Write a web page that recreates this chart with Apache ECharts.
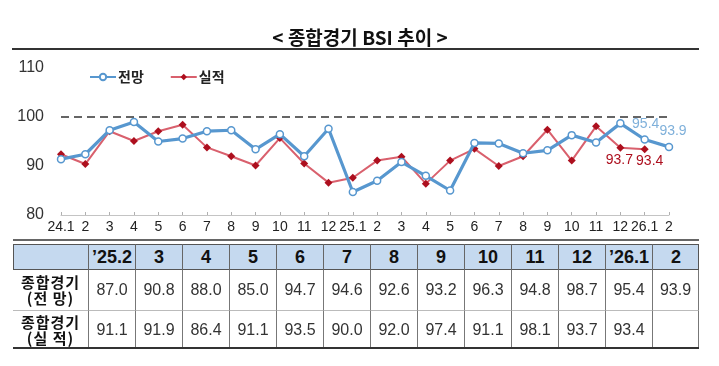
<!DOCTYPE html>
<html>
<head>
<meta charset="utf-8">
<script src="https://cdn.jsdelivr.net/npm/echarts@6/dist/echarts.min.js"></script>
<style>
html,body{margin:0;padding:0;background:#fff;}
#wrap{position:relative;width:719px;height:366px;overflow:hidden;}
#chart{position:absolute;left:0;top:0;width:719px;height:366px;}
#tbl{position:absolute;left:0;top:0;width:719px;height:366px;}
.cell{position:absolute;box-sizing:border-box;display:flex;align-items:center;justify-content:center;font-family:"Liberation Sans",Arial,sans-serif;color:#333;}
</style>
</head>
<body>
<div id="wrap">
<div id="chart"></div>
<div id="tbl"></div>
</div>
<script>
// ---- data ----
const categories = ['24.1','2','3','4','5','6','7','8','9','10','11','12','25.1','2','3','4','5','6','7','8','9','10','11','12','26.1','2'];
const forecast = [91.4, 92.4, 97.3, 99.0, 95.0, 95.6, 97.1, 97.3, 93.4, 96.5, 92.0, 97.6, 84.7,
                  87.0, 90.8, 88.0, 85.0, 94.7, 94.6, 92.6, 93.2, 96.3, 94.8, 98.7, 95.4, 93.9];
const actual   = [92.4, 90.4, 97.1, 95.1, 97.1, 98.4, 93.8, 92.0, 90.1, 95.7, 90.5, 86.6, 87.6,
                  91.1, 91.9, 86.4, 91.1, 93.5, 90.0, 92.0, 97.4, 91.1, 98.1, 93.7, 93.4, null];
const yTicks = [80, 90, 100, 110];
const tableHeaders = ['\u201925.2','3','4','5','6','7','8','9','10','11','12','\u201926.1','2'];
const rowLabels = [['종합경기','(전 망)'],['종합경기','(실 적)']];
const seriesNames = ['전망','실적'];

const sans = "'Liberation Sans',Arial,sans-serif";
const blue = '#5797cf', blueLabel = '#7fb0da', redLine = '#d9606d', redMark = '#ad0f1e';

const chart = echarts.init(document.getElementById('chart'), null, {renderer:'canvas'});
const n = categories.length;
const fData = forecast.map((v,i)=> i>=n-2 ? {value:v, label:{show:true, position:'top', distance:4, offset:[i===n-1?4:1,0], color:blueLabel, fontSize:14, fontFamily:sans}} : v);
const aData = actual.map((v,i)=> (i===n-3||i===n-2) ? {value:v, label:{show:true, position:'bottom', distance:1, offset:[i===n-2?5:-1,0], color:redMark, fontSize:14, fontFamily:sans}} : v);

chart.setOption({
  animation:false,
  title:{text:'< 종합경기 BSI 추이 >', left:355, top:23, textAlign:'center',
    textStyle:{fontFamily:"'Noto Sans CJK KR',sans-serif", fontWeight:'bold', fontSize:19, color:'#111'}},
  legend:{left:84, top:65, itemWidth:26, itemHeight:8, itemGap:26,
    textStyle:{fontFamily:"'Noto Sans CJK KR',sans-serif", fontWeight:'bold', fontSize:14, color:'#222', padding:[0,0,0,-3]},
    data:seriesNames},
  grid:{left:61, right:50, top:68, bottom:151},
  xAxis:{type:'category', data:categories, boundaryGap:false,
    axisLine:{lineStyle:{color:'#c4c4c4', width:1}},
    axisTick:{inside:true, length:3, lineStyle:{color:'#b0b0b0'}},
    axisLabel:{margin:5, fontFamily:sans, fontSize:14, color:'#222', interval:0}},
  yAxis:{type:'value', min:yTicks[0], max:yTicks[yTicks.length-1], interval:10,
    axisLine:{show:false}, axisTick:{show:false}, splitLine:{show:false},
    axisLabel:{margin:17, fontFamily:sans, fontSize:16, color:'#333'}},
  series:[
    {name:seriesNames[0], type:'line', data:fData, z:3,
      lineStyle:{color:blue, width:3.2}, itemStyle:{color:'#fff', borderColor:blue, borderWidth:1.5},
      symbol:'circle', symbolSize:7, showAllSymbol:true,
      markLine:{silent:true, symbol:'none', label:{show:false},
        lineStyle:{color:'#333', type:[8,5], width:1.5}, data:[{yAxis:100}]}},
    {name:seriesNames[1], type:'line', data:aData, z:2, connectNulls:false,
      lineStyle:{color:redLine, width:2}, itemStyle:{color:redMark},
      symbol:'diamond', symbolSize:8, showAllSymbol:true}
  ],
  graphic:[
    {type:'line', shape:{x1:12, y1:49, x2:699, y2:49}, style:{stroke:'#333', lineWidth:2}},
    {type:'line', shape:{x1:13, y1:240, x2:699, y2:240}, style:{stroke:'#666', lineWidth:2}}
  ]
});

// ---- table ----
const tbl = document.getElementById('tbl');
const x0 = 13, labelW = 75, colW = (699 - 88) / 13;
const rowsY = [244, 270, 311, 348];
function cell(x, y, w, h, html, style){
  const d = document.createElement('div');
  d.className = 'cell';
  d.style.left = x + 'px'; d.style.top = y + 'px';
  d.style.width = w + 'px'; d.style.height = h + 'px';
  Object.assign(d.style, style||{});
  d.innerHTML = html;
  tbl.appendChild(d);
}
cell(x0, rowsY[0], 699 - x0, rowsY[1]-rowsY[0], '', {background:'#c5d9ef', border:'1px solid #555'});
tableHeaders.forEach((h,i)=>{
  cell(88 + i*colW, rowsY[0], colW, rowsY[1]-rowsY[0], h,
    {fontWeight:'bold', fontSize:'18px', color:'#111', borderLeft:'1px solid #666'});
});
const rowsData = [forecast.slice(n-13), actual.slice(n-13)];
rowsData.forEach((row, r)=>{
  const y = rowsY[r+1], h = rowsY[r+2]-rowsY[r+1];
  cell(x0, y, labelW, h, rowLabels[r][0] + '<br>' + rowLabels[r][1],
    {fontFamily:"'Noto Sans CJK KR',sans-serif", fontWeight:'bold', fontSize:'15px', lineHeight:'16px', color:'#111', textAlign:'center', letterSpacing:'1px',
     borderBottom: r===0 ? '1px solid #bbb' : 'none'});
  row.forEach((v,i)=>{
    cell(88 + i*colW, y, colW, h, v==null ? '' : v.toFixed(1),
      {fontSize:'16px', color:'#333', borderLeft:'1px solid #777', borderBottom: r===0 ? '1px solid #bbb' : 'none', borderRight: i===12 ? '1px solid #777':'none'});
  });
});
cell(x0, 347, 699 - x0, 2, '', {background:'#333'});
</script>
</body>
</html>
